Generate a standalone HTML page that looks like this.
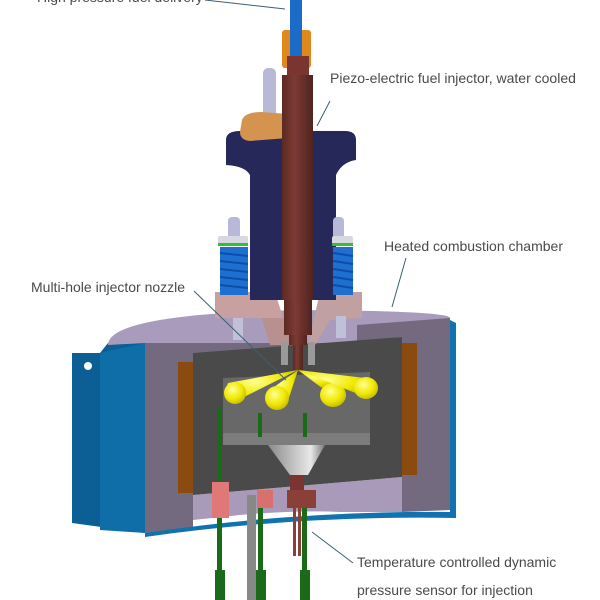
<!DOCTYPE html>
<html><head><meta charset="utf-8"><style>
html,body{margin:0;padding:0;background:#fff;width:600px;height:600px;overflow:hidden}
svg{display:block}
text{font-family:"Liberation Sans",sans-serif;font-size:14px;fill:#4a4a4a}
</style></head><body>
<svg width="600" height="600" viewBox="0 0 600 600">
<defs>
<linearGradient id="br" x1="0" x2="1"><stop offset="0" stop-color="#5a2a22"/><stop offset=".4" stop-color="#7e3a34"/><stop offset="1" stop-color="#4e2420"/></linearGradient>
<linearGradient id="fun" x1="0" x2="1"><stop offset="0" stop-color="#8a8a8a"/><stop offset=".75" stop-color="#e8e8e8"/><stop offset="1" stop-color="#777"/></linearGradient>
<radialGradient id="yl" cx=".4" cy=".35" r=".7"><stop offset="0" stop-color="#ffff90"/><stop offset=".6" stop-color="#f0e800"/><stop offset="1" stop-color="#c0b800"/></radialGradient>
</defs>
<!-- chamber -->
<path d="M72 353 L100 353 L108 343 L145 343 L145 533 L72 523Z" fill="#0c5f95"/>
<path d="M100 353 L145 343 L145 533 L100 530Z" fill="#0f6ea8"/>
<circle cx="88" cy="366" r="4" fill="#fff"/>
<path d="M108 345 Q108 314 300 310 Q450 311 450 318 L450 323 L357 325 L357 343 L145 343 Z" fill="#a99bbb"/>
<path d="M145 343 L357 343 L357 350 L193 353 L193 530 L145 533Z" fill="#736a80"/>
<path d="M357 325 L450 318 L450 510 L402 512 L402 337 L357 343Z" fill="#736a80"/>
<path d="M450 320 L456 323 L456 512 L450 512Z" fill="#1073b0"/>
<path d="M145 533 Q300 510 456 512 L456 518 Q300 515 145 537Z" fill="#1073b0"/>
<path d="M193 495 L402 477 L402 512 L340 512 Q300 510 240 515 L193 520Z" fill="#a89ab8"/>
<path d="M193 353 L402 337 L402 477 L193 495Z" fill="#4a4a4a"/>
<rect x="178" y="362" width="15" height="131" fill="#8a4a10"/>
<rect x="402" y="343" width="15" height="132" fill="#8a4a10"/>
<path d="M223 378 L370 372 L370 433 L223 433Z" fill="#686868"/>
<rect x="223" y="433" width="147" height="12" fill="#7c7c7c"/>
<path d="M268 445 L325 445 L308 475 L290 475Z" fill="url(#fun)"/>
<!-- pink blocks -->
<path d="M215 292 L275 292 L290 340 L282 345 L262 318 L215 318Z" fill="#c8a0a0"/>
<path d="M262 318 L290 318 L290 345 L270 345Z" fill="#b89090"/>
<path d="M320 292 L362 292 L362 318 L330 320 L315 345 L308 345Z" fill="#c0a0a0"/>
<rect x="233" y="318" width="10" height="22" fill="#c0c0d8"/>
<rect x="336" y="316" width="10" height="22" fill="#c0c0d8"/>
<!-- navy -->
<path d="M226 140 Q226 131 240 131 L345 131 Q356 131 356 140 L356 160 Q342 162 336 175 L336 300 L250 300 L250 175 Q245 166 226 165Z" fill="#26285a"/>
<!-- springs -->
<rect x="228" y="217" width="12" height="22" rx="4" fill="#b8b8d8"/>
<rect x="218" y="236" width="30" height="10" rx="2" fill="#d8d8e2"/>
<rect x="218" y="243" width="30" height="3" fill="#30c030"/>
<rect x="220" y="247" width="28" height="48" fill="#1f6fd0"/>
<g stroke="#0d4ea8" stroke-width="2"><line x1="220" y1="253" x2="248" y2="256"/><line x1="220" y1="261" x2="248" y2="264"/><line x1="220" y1="269" x2="248" y2="272"/><line x1="220" y1="277" x2="248" y2="280"/><line x1="220" y1="285" x2="248" y2="288"/></g>
<rect x="333" y="217" width="11" height="22" rx="4" fill="#b8b8d8"/>
<rect x="332" y="236" width="21" height="10" rx="2" fill="#d8d8e2"/>
<rect x="332" y="243" width="21" height="3" fill="#30c030"/>
<rect x="333" y="247" width="20" height="48" fill="#1f6fd0"/>
<g stroke="#0d4ea8" stroke-width="2"><line x1="333" y1="253" x2="353" y2="256"/><line x1="333" y1="261" x2="353" y2="264"/><line x1="333" y1="269" x2="353" y2="272"/><line x1="333" y1="277" x2="353" y2="280"/><line x1="333" y1="285" x2="353" y2="288"/></g>
<!-- top: bolt, clamp, tube -->
<rect x="263" y="68" width="13" height="52" rx="5" fill="#b8b8d8"/>
<path d="M242 120 Q245 112 262 112 L288 114 L288 138 L250 141 Q240 140 240 132Z" fill="#d4934f"/>
<rect x="290" y="0" width="12" height="58" fill="#1a6cc8"/>
<rect x="282" y="30" width="29" height="38" rx="3" fill="#e0881e"/>
<rect x="290" y="30" width="12" height="28" fill="#1a6cc8"/>
<!-- injector -->
<rect x="287" y="56" width="22" height="22" fill="#7a3530"/>
<rect x="282" y="75" width="31" height="225" fill="url(#br)"/>
<rect x="284" y="300" width="28" height="35" fill="url(#br)"/>
<rect x="289" y="335" width="18" height="10" fill="url(#br)"/>
<rect x="293" y="345" width="10" height="25" fill="url(#br)"/>
<rect x="281" y="342" width="7" height="23" fill="#9a9a9a"/>
<rect x="308" y="342" width="7" height="23" fill="#9a9a9a"/>
<!-- spray -->
<g fill="url(#yl)">
<path d="M298 370 L228 383 Q222 398 232 403 Z"/>
<ellipse cx="235" cy="393" rx="11" ry="11"/>
<path d="M298 370 L267 392 L287 404Z"/>
<ellipse cx="277" cy="398" rx="12" ry="12"/>
<path d="M298 370 L322 388 L340 385Z"/>
<ellipse cx="333" cy="395" rx="13" ry="12"/>
<path d="M298 370 L365 378 L368 398Z"/>
<ellipse cx="366" cy="388" rx="12" ry="11"/>
</g>
<!-- rods & connectors -->
<g fill="#1a6a1a">
<rect x="217" y="407" width="5" height="193"/>
<rect x="258" y="413" width="4" height="24"/>
<rect x="303" y="413" width="4" height="24"/>
<rect x="258" y="505" width="5" height="95"/>
<rect x="302" y="505" width="5" height="95"/>
<rect x="215" y="570" width="10" height="30"/>
<rect x="256" y="570" width="10" height="30"/>
<rect x="300" y="570" width="10" height="30"/>
</g>
<rect x="247" y="495" width="9" height="105" fill="#888"/>
<rect x="212" y="482" width="17" height="36" fill="#e07878"/>
<rect x="257" y="490" width="16" height="18" fill="#d87070"/>
<rect x="290" y="475" width="14" height="20" fill="#7a3530"/>
<rect x="287" y="490" width="29" height="18" fill="#8a4038"/>
<rect x="293" y="508" width="3" height="48" fill="#8a4038"/>
<rect x="298" y="508" width="3" height="48" fill="#8a4038"/>
<!-- labels -->
<g stroke="#3a6070" stroke-width="1" fill="none">
<line x1="205" y1="0" x2="285" y2="9"/>
<line x1="330" y1="101" x2="317" y2="126"/>
<line x1="406" y1="258" x2="392" y2="307"/>
<line x1="194" y1="291" x2="286" y2="380"/>
<line x1="312" y1="532" x2="353" y2="563"/>
</g>
<text x="37" y="2">High pressure fuel delivery</text>
<text x="330" y="83">Piezo-electric fuel injector, water cooled</text>
<text x="384" y="251">Heated combustion chamber</text>
<text x="31" y="292">Multi-hole injector nozzle</text>
<text x="357" y="567">Temperature controlled dynamic</text>
<text x="357" y="595">pressure sensor for injection</text>
</svg>
</body></html>
